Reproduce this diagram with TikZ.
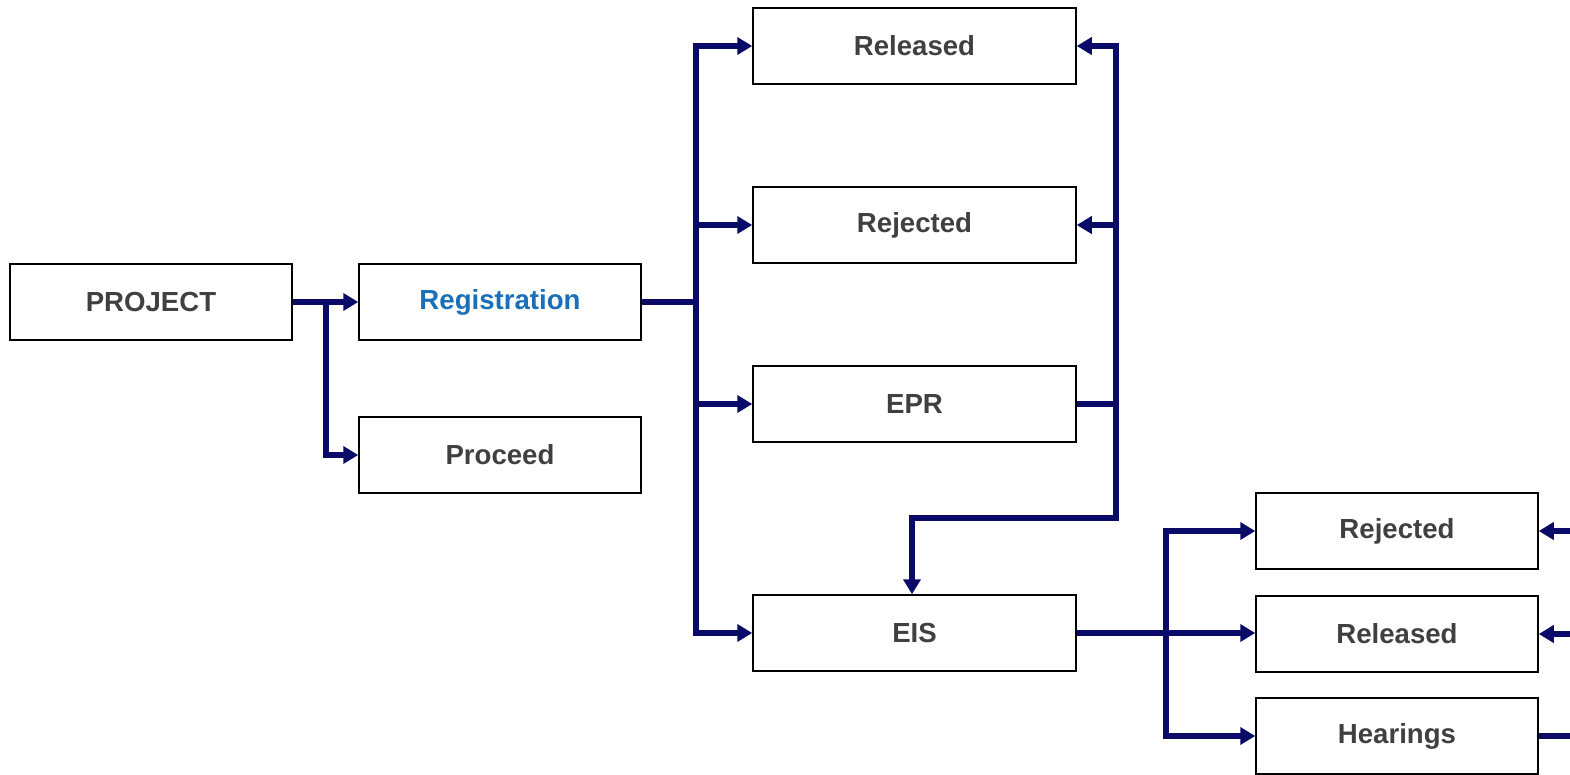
\documentclass[tikz,border=0pt]{standalone}
\usepackage{fontspec}
\setmainfont{Liberation Sans}
\usetikzlibrary{arrows.meta}
\definecolor{navy}{RGB}{10,10,105}
\definecolor{txtgray}{RGB}{64,64,64}
\definecolor{regblue}{RGB}{26,112,184}
\tikzset{
  box/.style={draw=black, line width=1.5pt, fill=white, minimum width=282pt, minimum height=76pt, inner sep=0pt,
    font=\fontsize{27.6pt}{32pt}\selectfont\bfseries, text=txtgray, anchor=center},
  widebox/.style={box, minimum width=323pt},
  conn/.style={draw=navy, line width=5.5pt, line join=miter},
  tip/.tip={Triangle[length=15pt,width=17pt]},
  arr/.style={conn, -tip},
  darr/.style={conn, tip-tip},
}
\begin{document}
\begin{tikzpicture}[x=1pt,y=-1pt]
\useasboundingbox (0,0) rectangle (1570,775);
\node[box] (project) at (151,302) {PROJECT};
\node[box, text=regblue] (reg) at (500,302) {Registration};
\node[box] (proceed) at (500,455) {Proceed};
\node[widebox] (rel1) at (914.5,46) {Released};
\node[widebox] (rej1) at (914.5,225) {Rejected};
\node[widebox] (epr) at (914.5,404) {EPR};
\node[widebox] (eis) at (914.5,633) {EIS};
\node[box] (rej2) at (1397,531) {Rejected};
\node[box] (rel2) at (1397,634) {Released};
\node[box] (hear) at (1397,736) {Hearings};
% junctions
\coordinate (j1) at (326,302);
\coordinate (j1b) at (326,455);
\coordinate (j2) at (696,302);
\coordinate (j2t) at (696,46);
\coordinate (j2a) at (696,225);
\coordinate (j2b) at (696,404);
\coordinate (j2e) at (696,633);
\coordinate (j3) at (1116,404);
\coordinate (j3t) at (1116,46);
\coordinate (j3a) at (1116,225);
\coordinate (j3b) at (1116,518);
\coordinate (j3c) at (912,518);
\coordinate (j4) at (1166,633);
\coordinate (j4t) at (1166,531);
\coordinate (j4b) at (1166,736);
\coordinate (e1) at (1575,531);
\coordinate (e2) at (1575,634);
\coordinate (e3) at (1575,736);
% PROJECT
\draw[arr] (project.east) -- (reg.west);
\draw[arr] (j1) -- (j1b) -- (proceed.west);
% Registration
\draw[conn] (reg.east) -- (j2);
\draw[darr] (rel1.west) -- (j2t) -- (j2e) -- (eis.west);
\draw[arr] (j2a) -- (rej1.west);
\draw[arr] (j2b) -- (epr.west);
% EPR
\draw[conn] (epr.east) -- (j3);
\draw[darr] (rel1.east) -- (j3t) -- (j3b) -- (j3c) -- (eis.north -| j3c);
\draw[arr] (j3a) -- (rej1.east);
% EIS
\draw[conn] (eis.east) -- (j4);
\draw[darr] (rej2.west) -- (j4t) -- (j4b) -- (hear.west);
\draw[arr] (j4) -- (rel2.west |- j4);
% right edge
\draw[arr] (e1) -- (rej2.east);
\draw[arr] (e2) -- (rel2.east);
\draw[conn] (hear.east) -- (e3);
\end{tikzpicture}
\end{document}
